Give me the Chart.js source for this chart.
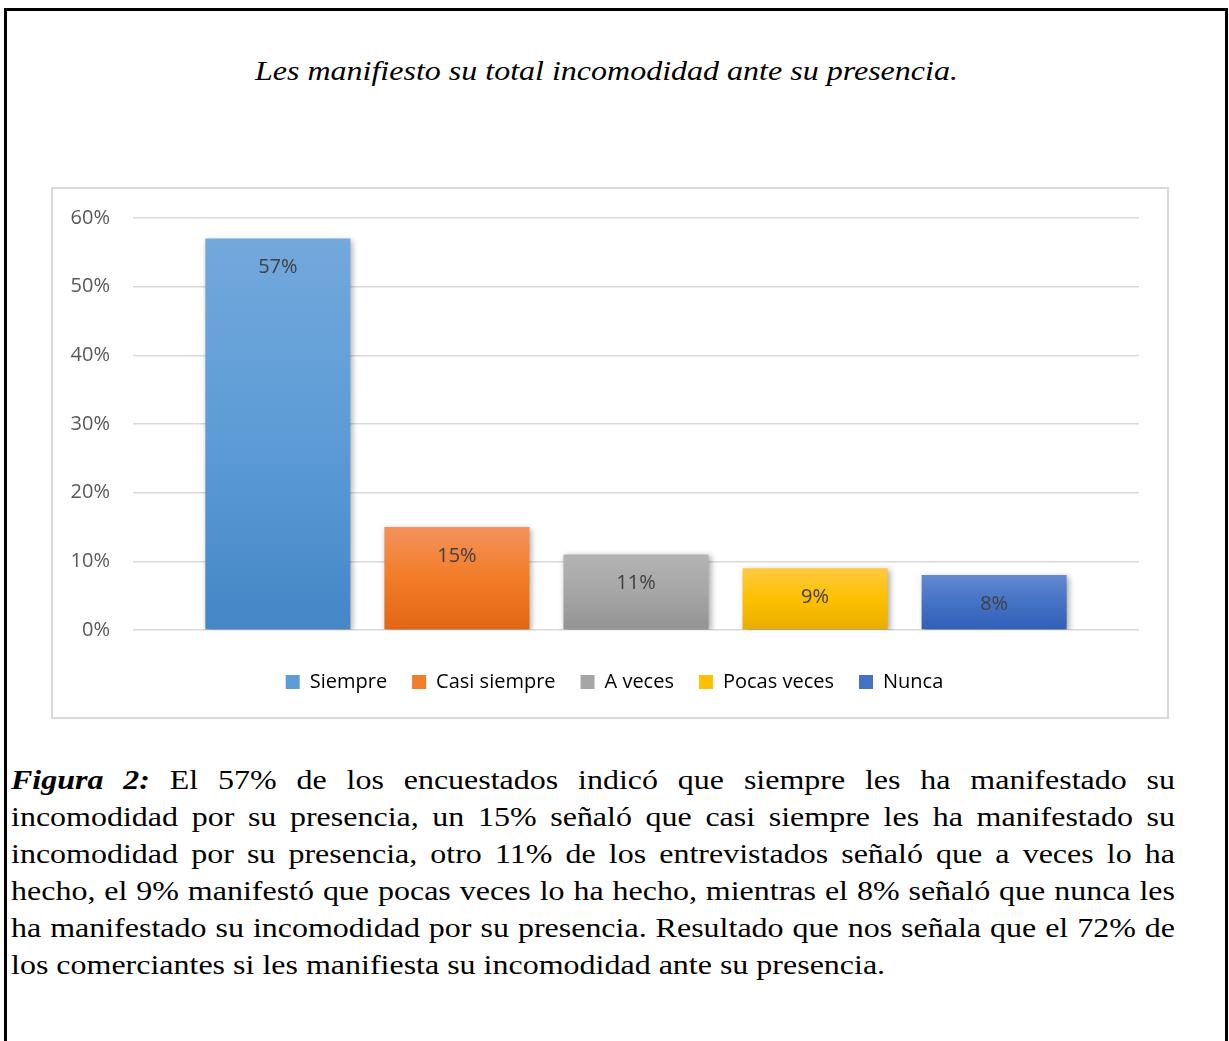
<!DOCTYPE html>
<html>
<head>
<meta charset="utf-8">
<script src="https://cdn.jsdelivr.net/npm/chart.js@4.4.1/dist/chart.umd.min.js"></script>
<style>
  html, body { margin:0; padding:0; background:#fff; overflow:hidden; width:1229px; height:1041px; }
  #frame { position:absolute; left:4px; top:8px; width:1218px; height:1100px; border:3px solid #000; border-bottom:none; box-sizing:content-box; }
  .serif { font-family:"Liberation Serif", "Times New Roman", "DejaVu Serif", serif; }
  #title { position:absolute; left:255px; top:56px; font-style:italic; font-size:28px; line-height:30px; white-space:nowrap; color:#000; transform-origin:left top; }
  #chartbox { position:absolute; left:51px; top:187px; width:1114px; height:528px; border:2px solid #d9d9d9; }
  #chartbox canvas { display:block; }
  #caption { position:absolute; left:11px; top:761px; font-size:28px; line-height:37px; color:#000; transform-origin:left top; }
  #caption .ln { text-align:justify; text-align-last:justify; white-space:nowrap; }
  #caption .ln.last { text-align:left; text-align-last:left; }
  #caption b { font-style:italic; font-weight:bold; }
  #measure { position:absolute; visibility:hidden; white-space:nowrap; font-size:28px; }
</style>
</head>
<body>
<div id="frame"></div>
<div id="title" class="serif">Les manifiesto su total incomodidad ante su presencia.</div>
<div id="chartbox"><canvas id="c" width="1114" height="528"></canvas></div>
<div id="caption" class="serif">
  <div class="ln"><b>Figura 2:</b> El 57% de los encuestados indicó que siempre les ha manifestado su</div>
  <div class="ln">incomodidad por su presencia, un 15% señaló que casi siempre les ha manifestado su</div>
  <div class="ln">incomodidad por su presencia, otro 11% de los entrevistados señaló que a veces lo ha</div>
  <div class="ln">hecho, el 9% manifestó que pocas veces lo ha hecho, mientras el 8% señaló que nunca les</div>
  <div class="ln">ha manifestado su incomodidad por su presencia. Resultado que nos señala que el 72% de</div>
  <div class="ln last">los comerciantes si les manifiesta su incomodidad ante su presencia.</div>
</div>
<span id="measure" class="serif">los comerciantes si les manifiesta su incomodidad ante su presencia.</span>
<script>
// ---- data ----
const categories = ['Siempre', 'Casi siempre', 'A veces', 'Pocas veces', 'Nunca'];
const values = [0.57, 0.15, 0.11, 0.09, 0.08];
const valueLabels = ['57%', '15%', '11%', '9%', '8%'];
const yTicks = [0, 0.1, 0.2, 0.3, 0.4, 0.5, 0.6];

// ---- styles ----
const gradTop = ['#73a8dc', '#f3925c', '#b4b4b4', '#ffca42', '#6389d1'];
const gradMid = ['#5d9cd6', '#f27c27', '#a6a6a6', '#ffc000', '#4472c4'];
const gradBot = ['#4486c6', '#e26614', '#939393', '#e8ad00', '#2e5eb8'];

function fitText() {
  const title = document.getElementById('title');
  title.style.transform = 'none';
  title.style.transform = 'scaleX(' + (703 / title.offsetWidth) + ')';
  const m = document.getElementById('measure');
  const sc = 874 / m.offsetWidth;
  const cap = document.getElementById('caption');
  cap.style.width = (1164 / sc) + 'px';
  cap.style.transform = 'scaleX(' + sc + ')';
}
fitText();

function makeBg(i) {
  return function(ctx) {
    const chart = ctx.chart;
    if (!chart.chartArea || ctx.raw === undefined) return gradMid[i];
    const y = chart.scales.y;
    const top = y.getPixelForValue(ctx.raw);
    const base = y.getPixelForValue(0);
    if (!isFinite(top) || !isFinite(base) || top === base) return gradMid[i];
    const g = chart.ctx.createLinearGradient(0, top, 0, base);
    g.addColorStop(0, gradTop[i]);
    g.addColorStop(0.5, gradMid[i]);
    g.addColorStop(1, gradBot[i]);
    return g;
  };
}

const datasets = categories.map((name, i) => ({
  label: name,
  data: [values[i]],
  backgroundColor: makeBg(i),
  borderWidth: 0,
  categoryPercentage: 0.89,
  barPercentage: 0.81
}));

const shadowPlugin = {
  id: 'shadow',
  beforeDatasetsDraw(chart) {
    const c = chart.ctx;
    c.save();
    c.shadowColor = 'rgba(0,0,0,0.35)';
    c.shadowBlur = 6;
    c.shadowOffsetX = 2;
    c.shadowOffsetY = 2;
  },
  afterDatasetsDraw(chart) {
    chart.ctx.restore();
  }
};

const labelPlugin = {
  id: 'valueLabels',
  afterDatasetsDraw(chart) {
    const c = chart.ctx;
    c.save();
    c.font = '20px "Open Sans"';
    c.fillStyle = '#404040';
    c.textAlign = 'center';
    c.textBaseline = 'middle';
    chart.data.datasets.forEach((ds, i) => {
      const meta = chart.getDatasetMeta(i);
      meta.data.forEach((bar) => {
        c.fillText(valueLabels[i], bar.x, bar.y + 29);
      });
    });
    c.restore();
  }
};

new Chart(document.getElementById('c'), {
  type: 'bar',
  data: { labels: [''], datasets },
  options: {
    responsive: false,
    animation: false,
    layout: { padding: { left: 9, right: 0, top: 29, bottom: 15 } },
    scales: {
      x: {
        display: true,
        grid: { display: false },
        border: { display: false },
        ticks: { display: false },
        afterFit(s) { s.height = 17; s.paddingLeft = 0; s.paddingRight = 0; }
      },
      y: {
        min: 0,
        max: 0.6,
        afterBuildTicks(s) { s.ticks = yTicks.map(v => ({ value: v })); },
        afterFit(s) { s.width = 71; s.paddingTop = 0; s.paddingBottom = 0; },
        grid: { color: '#d9d9d9', lineWidth: 1.5, drawTicks: false },
        border: { display: false },
        ticks: {
          padding: 23,
          color: '#595959',
          font: { family: 'Open Sans', size: 20 },
          callback: (v) => Math.round(v * 100) + '%'
        }
      },
      y2: {
        position: 'right',
        display: true,
        grid: { display: false },
        border: { display: false },
        ticks: { display: false },
        afterFit(s) { s.width = 28; s.paddingTop = 0; s.paddingBottom = 0; }
      }
    },
    plugins: {
      legend: {
        position: 'bottom',
        labels: {
          boxWidth: 14,
          boxHeight: 14,
          padding: 25,
          color: '#595959',
          font: { family: 'Open Sans', size: 20 },
          generateLabels(chart) {
            return chart.data.datasets.map((ds, i) => ({
              text: ds.label,
              fillStyle: gradMid[i],
              strokeStyle: 'rgba(0,0,0,0)',
              lineWidth: 0,
              hidden: false,
              datasetIndex: i
            }));
          }
        }
      },
      tooltip: { enabled: false }
    }
  },
  plugins: [shadowPlugin, labelPlugin]
});
</script>
</body>
</html>
